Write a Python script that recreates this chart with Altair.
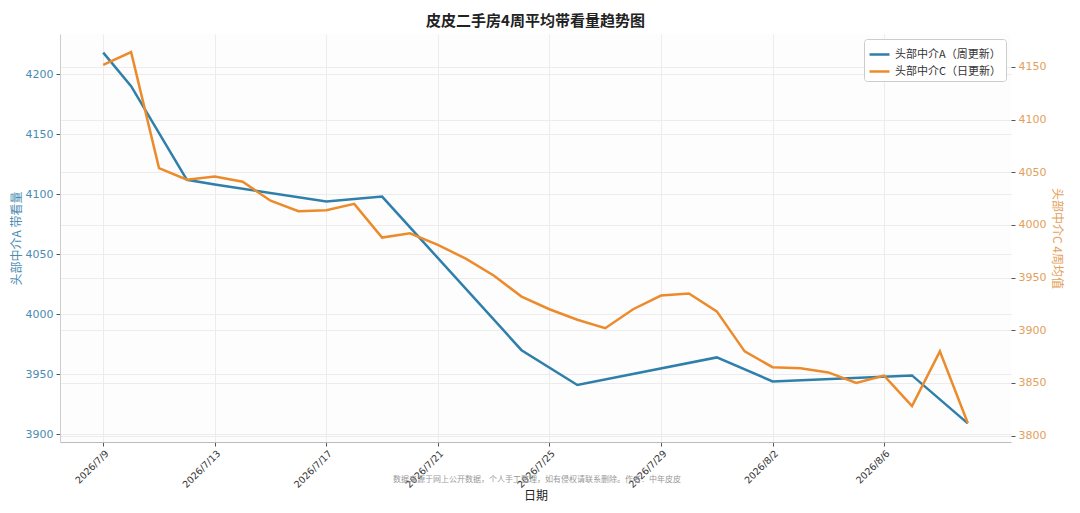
import altair as alt
import pandas as pd

TITLE = "皮皮二手房4周平均带看量趋势图"
A_NAME = "头部中介A（周更新）"
C_NAME = "头部中介C（日更新）"
FOOTER = "数据来源于网上公开数据，个人手工整理，如有侵权请联系删除。作者：中年皮皮"

a_dates = ["2026/07/09", "2026/07/10", "2026/07/12", "2026/07/13", "2026/07/17", "2026/07/19",
           "2026/07/24", "2026/07/26", "2026/07/31", "2026/08/02", "2026/08/07", "2026/08/09"]
a_values = [4218, 4190, 4112, 4108, 4094, 4098, 3970, 3941, 3964, 3944, 3949, 3909]

c_dates = ["2026/07/09", "2026/07/10", "2026/07/11", "2026/07/12", "2026/07/13", "2026/07/14",
           "2026/07/15", "2026/07/16", "2026/07/17", "2026/07/18", "2026/07/19", "2026/07/20",
           "2026/07/21", "2026/07/22", "2026/07/23", "2026/07/24", "2026/07/25", "2026/07/26",
           "2026/07/27", "2026/07/28", "2026/07/29", "2026/07/30", "2026/07/31", "2026/08/01",
           "2026/08/02", "2026/08/03", "2026/08/04", "2026/08/05", "2026/08/06", "2026/08/07",
           "2026/08/08", "2026/08/09"]
c_values = [4152, 4164, 4054, 4043, 4046, 4041, 4023, 4013, 4014, 4020,
            3988, 3992, 3981, 3968, 3952, 3932, 3920, 3910, 3902, 3920,
            3933, 3935, 3918, 3880, 3865, 3864, 3860, 3850, 3857, 3828,
            3880, 3812]

left_ticks = [3900, 3950, 4000, 4050, 4100, 4150, 4200]
right_ticks = [3800, 3850, 3900, 3950, 4000, 4050, 4100, 4150]
x_tick_days = [(7, 9), (7, 13), (7, 17), (7, 21), (7, 25), (7, 29), (8, 2), (8, 6)]

BLUE = "#2E7FAA"
ORANGE = "#EC8B2B"
CJK = "Noto Sans CJK SC"

df = pd.concat([
    pd.DataFrame({"date": a_dates, "value": a_values, "series": A_NAME}),
    pd.DataFrame({"date": c_dates, "value": c_values, "series": C_NAME}),
], ignore_index=True)

x_enc = alt.X(
    "date:T",
    scale=alt.Scale(domain=[alt.DateTime(year=2026, month=7, date=7, hours=10, minutes=48),
                            alt.DateTime(year=2026, month=8, date=10, hours=13, minutes=12)]),
    axis=alt.Axis(
        values=[alt.DateTime(year=2026, month=m, date=d) for m, d in x_tick_days],
        format="%Y/%-m/%-d", labelAngle=-45, labelFontSize=9.5, labelColor="#333333",
        labelFont="DejaVu Sans", title="日期", titleFont=CJK, titleFontSize=12,
        titleFontWeight="normal", titleColor="#222222", titlePadding=1,
        grid=True, gridColor="#ececec", domainColor="#bbbbbb", tickColor="#555555",
        tickSize=4, labelPadding=2,
    ),
)

color_enc = alt.Color(
    "series:N",
    scale=alt.Scale(domain=[A_NAME, C_NAME], range=[BLUE, ORANGE]),
    legend=alt.Legend(
        title=None, orient="top-right", offset=5, fillColor="white", strokeColor="#cccccc",
        padding=4, cornerRadius=3, symbolType="stroke", symbolStrokeWidth=2.5,
        symbolSize=400, labelFont=CJK, labelFontSize=11, labelColor="#333333", rowPadding=0,
    ),
)

base = alt.Chart(df).encode(x=x_enc, color=color_enc)

line_a = base.transform_filter(alt.datum.series == A_NAME).mark_line(strokeWidth=2.5).encode(
    y=alt.Y(
        "value:Q",
        scale=alt.Scale(domain=[3893.5, 4233.5], nice=False, zero=False),
        axis=alt.Axis(
            orient="left", values=left_ticks, format="d", title="头部中介A 带看量", titleFont=CJK,
            titleFontSize=12, titleFontWeight="normal", titleColor="#4A8CB0",
            labelColor="#4A8CB0", labelFont="DejaVu Sans", labelFontSize=11,
            grid=True, gridColor="#ececec", domainColor="#cccccc", tickColor="#555555",
            tickSize=4, labelPadding=3, titlePadding=2,
        ),
    )
)

line_c = base.transform_filter(alt.datum.series == C_NAME).mark_line(strokeWidth=2.5).encode(
    y=alt.Y(
        "value:Q",
        scale=alt.Scale(domain=[3794, 4181.2], nice=False, zero=False),
        axis=alt.Axis(
            orient="right", values=right_ticks, format="d", title="头部中介C 4周均值", titleFont=CJK,
            titleFontSize=12, titleFontWeight="normal", titleColor="#E3A05A", titleAngle=90,
            labelColor="#E3A05A", labelFont="DejaVu Sans", labelFontSize=11,
            grid=True, gridColor="#ececec", domain=False, tickColor="#555555",
            tickSize=4, labelPadding=3, titlePadding=4,
        ),
    )
)

footer = alt.Chart(pd.DataFrame({"t": [FOOTER]})).mark_text(
    font=CJK, fontSize=8, color="#999999", align="center", baseline="middle"
).encode(text="t:N", x=alt.value(477), y=alt.value(446))

chart = alt.layer(line_a, line_c, footer).resolve_scale(y="independent").properties(
    width=951, height=408,
    title=alt.TitleParams(TITLE, font=CJK, fontSize=15, fontWeight="bold", color="#222222",
                          anchor="middle", offset=5),
    padding={"left": 2, "top": 6, "right": 5, "bottom": 0},
    background="white",
).configure_view(stroke=None, fill="#fdfdfd")

chart.save("out.html", embed_options={"renderer": "svg", "actions": False})
